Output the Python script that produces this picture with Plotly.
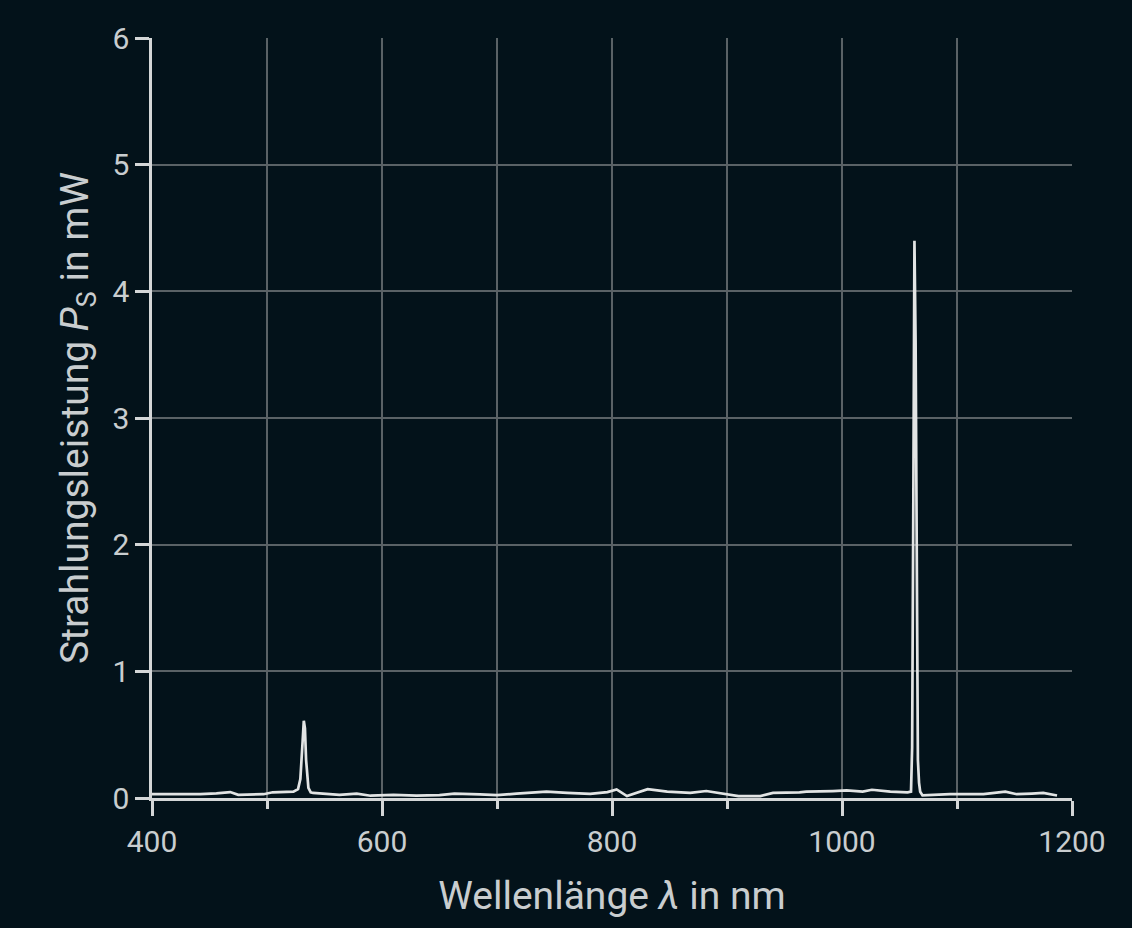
import plotly.graph_objects as go

# Wavelength in nm
wavelength = [400, 420, 442, 456, 468, 475, 490, 497, 505, 515, 523, 527, 529, 531, 532, 533, 534, 536, 538, 540,
              552, 563, 578, 590, 610, 630, 650, 663, 685, 700, 717, 730, 743, 761, 781, 796, 804, 813, 831,
              848, 868, 882, 900, 910, 929, 940, 963, 969, 992, 1004, 1018, 1026, 1042, 1057, 1060,
              1061, 1062, 1063, 1064, 1065, 1066, 1067, 1068, 1070, 1080, 1094, 1110, 1123, 1142, 1152,
              1165, 1175, 1187]
# Radiant power in mW
power = [0.03, 0.03, 0.03, 0.037, 0.047, 0.025, 0.03, 0.03, 0.045, 0.05, 0.05, 0.07, 0.15, 0.45, 0.61, 0.55, 0.3, 0.08, 0.045, 0.04,
         0.035, 0.025, 0.035, 0.018, 0.025, 0.018, 0.022, 0.035, 0.028, 0.022, 0.035, 0.04, 0.05, 0.04, 0.032, 0.047, 0.068, 0.015, 0.07,
         0.05, 0.04, 0.055, 0.03, 0.015, 0.015, 0.04, 0.045, 0.05, 0.055, 0.06, 0.05, 0.065, 0.05, 0.045, 0.05,
         0.4, 2.3, 4.4, 3.6, 1.2, 0.3, 0.12, 0.05, 0.02, 0.025, 0.03, 0.03, 0.03, 0.05, 0.03,
         0.035, 0.04, 0.02]

x_range = [400, 1200]
y_range = [0, 6]

BG = "#03121a"
TXT = "#c9cdcf"
GRID = "#5a6266"
AXIS = "#d4d6d7"

fig = go.Figure()
fig.add_trace(go.Scatter(x=wavelength, y=power, mode="lines",
                         line=dict(color="#e2e4e4", width=2.7), showlegend=False))

fig.update_layout(
    width=1132, height=928,
    paper_bgcolor=BG, plot_bgcolor=BG,
    margin=dict(l=152, r=60, t=38, b=130),
    font=dict(family="Roboto", color=TXT, size=30),
)
fig.update_xaxes(
    range=x_range, dtick=200, tick0=400,
    showline=True, linecolor=AXIS, linewidth=2.5,
    ticks="outside", ticklen=15, tickwidth=2.5, tickcolor=AXIS,
    showgrid=True, gridcolor=GRID, gridwidth=2,
    minor=dict(dtick=100, ticks="outside", ticklen=8, tickwidth=2.5, tickcolor=AXIS,
               showgrid=True, gridcolor=GRID, gridwidth=2),
    zeroline=False,
    tickfont=dict(size=30, color=TXT),
    title=dict(text="Wellenlänge <i>λ</i> in nm", font=dict(size=39, color=TXT), standoff=24),
)
fig.update_yaxes(
    range=y_range, dtick=1,
    showline=True, linecolor=AXIS, linewidth=2.5,
    ticks="outside", ticklen=14, tickwidth=2.5, tickcolor=AXIS,
    showgrid=True, gridcolor=GRID, gridwidth=2,
    zeroline=False,
    tickfont=dict(size=30, color=TXT),
    title=dict(text="Strahlungsleistung <i>P</i><sub>S</sub> in mW", font=dict(size=39, color=TXT), standoff=12),
)

fig.write_html("out.html", config={"displayModeBar": False},
               post_script="document.body.style.margin='0';document.body.style.background='" + BG + "';")
